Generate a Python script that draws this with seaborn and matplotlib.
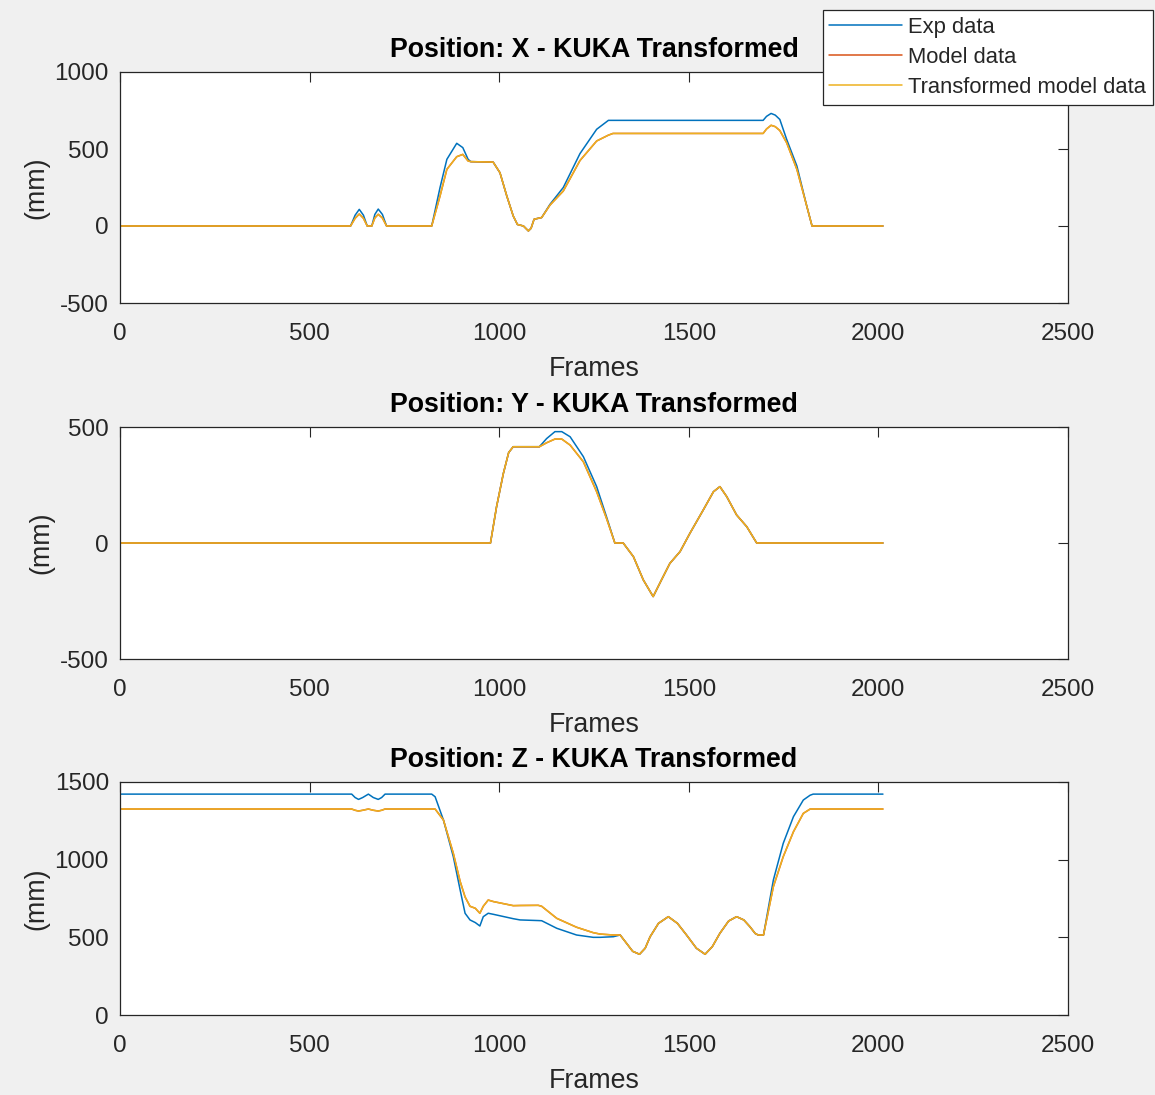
#!/usr/bin/env python3
"""
KUKA position comparison: experiment vs. model (MATLAB-style figure)
"""
import matplotlib
matplotlib.use("Agg")
import matplotlib.pyplot as plt
import seaborn as sns

# ---- X position ----
x_frames = [0, 608, 620, 631, 642, 652, 664, 672, 681, 692, 703, 822, 844, 862,
            888, 904, 918, 925, 984, 1002, 1020, 1037, 1048, 1064, 1077, 1084,
            1092, 1112, 1134, 1169, 1213, 1257, 1288, 1300, 1696, 1705, 1717,
            1728, 1740, 1758, 1785, 1811, 1825, 2012]
x_exp = [0, 0, 70, 108, 70, 0, 0, 75, 110, 75, 0, 0, 250, 433,
         537, 509, 433, 418, 415, 346, 195, 65, 10, 0, -32, -15,
         44, 55, 141, 250, 470, 628, 686, 686, 686, 712, 731,
         720, 692, 563, 390, 130, 0, 0]
x_trans = [0, 0, 50, 78, 50, 0, 0, 52, 76, 52, 0, 0, 195, 368,
           450, 465, 422, 418, 415, 346, 195, 65, 10, 0, -32, -15,
           44, 55, 136, 227, 425, 552, 590, 601, 601, 630, 654,
           645, 620, 541, 368, 130, 0, 0]
x_model = list(x_trans)

# ---- Y position ----
y_frames = [0, 977, 993, 1011, 1025, 1037, 1106, 1125, 1147, 1165, 1187, 1222,
            1257, 1283, 1305, 1327, 1354, 1380, 1406, 1428, 1450, 1477, 1503,
            1538, 1565, 1582, 1600, 1626, 1653, 1679, 2012]
y_exp = [0, 0, 156, 300, 390, 415, 415, 450, 480, 480, 458, 372,
         243, 113, 0, 0, -59, -159, -231, -159, -88, -37, 42,
         142, 221, 243, 200, 121, 70, 0, 0]
y_trans = [0, 0, 156, 300, 390, 415, 415, 432, 448, 448, 422, 350,
           221, 106, 0, 0, -59, -159, -231, -159, -88, -37, 42,
           142, 221, 243, 200, 121, 70, 0, 0]
y_model = list(y_trans)

# ---- Z position ----
z_frames = [0, 611, 620, 629, 640, 655, 668, 681, 690, 699, 822, 831, 853, 879,
            897, 910, 923, 937, 949, 958, 971, 985, 1037, 1055, 1103, 1112,
            1152, 1204, 1248, 1266, 1301, 1319, 1336, 1352, 1370, 1385, 1398,
            1420, 1446, 1470, 1494, 1520, 1543, 1562, 1582, 1605, 1626, 1645,
            1661, 1675, 1683, 1697, 1723, 1749, 1776, 1802, 1820, 1828, 2012]
z_exp = [1422, 1422, 1400, 1388, 1400, 1422, 1400, 1388, 1400, 1422, 1422, 1405, 1255, 1019,
         805, 655, 612, 595, 573, 633, 655, 648, 620, 612, 608, 607,
         558, 515, 500, 500, 504, 515, 461, 410, 391, 430, 504,
         590, 633, 590, 515, 430, 391, 440, 526, 605, 633, 612,
         569, 525, 515, 515, 869, 1105, 1277, 1384, 1415, 1422, 1422]
z_trans = [1326, 1326, 1318, 1313, 1318, 1326, 1318, 1313, 1318, 1326, 1326, 1326, 1255, 1041,
           860, 760, 700, 687, 655, 700, 740, 730, 704, 705, 706, 700,
           622, 565, 530, 521, 515, 515, 461, 410, 391, 430, 504,
           590, 633, 590, 515, 430, 391, 440, 526, 605, 633, 612,
           569, 525, 515, 515, 826, 1019, 1180, 1298, 1326, 1326, 1326]
z_model = list(z_trans)

x_ticks = [0, 500, 1000, 1500, 2000, 2500]
series_labels = ["Exp data", "Model data", "Transformed model data"]
series_colors = ["#0072BD", "#D95319", "#EDB120"]

sns.set_style("white")
plt.rcParams["font.family"] = ["Liberation Sans", "DejaVu Sans"]
plt.rcParams["axes.unicode_minus"] = False

fig = plt.figure(figsize=(11.55, 10.95), dpi=100, facecolor="#f0f0f0")

W, H = 1155, 1095
left, width = 120 / W, 948 / W
panels = [
    (x_frames, x_exp, x_model, x_trans, "Position: X - KUKA Transformed", (-500, 1000), [-500, 0, 500, 1000], 72, 303),
    (y_frames, y_exp, y_model, y_trans, "Position: Y - KUKA Transformed", (-500, 500), [-500, 0, 500], 427, 659),
    (z_frames, z_exp, z_model, z_trans, "Position: Z - KUKA Transformed", (0, 1500), [0, 500, 1000, 1500], 782, 1015),
]

axes = []
for frames, exp, model, trans, title, ylim, yticks, top, bottom in panels:
    ax = fig.add_axes([left, 1 - bottom / H, width, (bottom - top) / H])
    ax.set_facecolor("white")
    for vals, lab, col in zip([exp, model, trans], series_labels, series_colors):
        sns.lineplot(x=frames, y=vals, ax=ax, color=col, linewidth=1.1,
                     label=lab, estimator=None, legend=False)
    ax.set_xlim(0, 2500)
    ax.set_ylim(*ylim)
    ax.set_xticks(x_ticks)
    ax.set_yticks(yticks)
    ax.tick_params(direction="in", top=True, right=True, length=7, width=0.8,
                   color="#262626", labelcolor="#262626", labelsize=17.5)
    ax.tick_params(axis="x", pad=14.5)
    ax.tick_params(axis="y", pad=8)
    for sp in ax.spines.values():
        sp.set_visible(True)
        sp.set_color("#262626")
        sp.set_linewidth(0.9)
    ax.set_title(title, fontsize=19.3, fontweight="bold", color="black", pad=10.5)
    ax.set_xlabel("Frames", fontsize=19.3, color="#262626", labelpad=7.5)
    ax.set_ylabel("(mm)", fontsize=19.3, color="#262626", labelpad=4)
    axes.append(ax)

handles, labels = axes[0].get_legend_handles_labels()
leg = fig.legend(handles, labels, loc="upper right",
                 bbox_to_anchor=(1153 / W, 1 - 10 / H), bbox_transform=fig.transFigure,
                 fontsize=15.8, frameon=True, fancybox=False, framealpha=1,
                 edgecolor="#262626", handlelength=3.3, handletextpad=0.3,
                 labelspacing=0.42, borderpad=0.3, borderaxespad=0)
leg.get_frame().set_linewidth(0.9)
for t in leg.get_texts():
    t.set_color("#262626")

fig.savefig("out.png", dpi=100, facecolor=fig.get_facecolor())
plt.close(fig)
